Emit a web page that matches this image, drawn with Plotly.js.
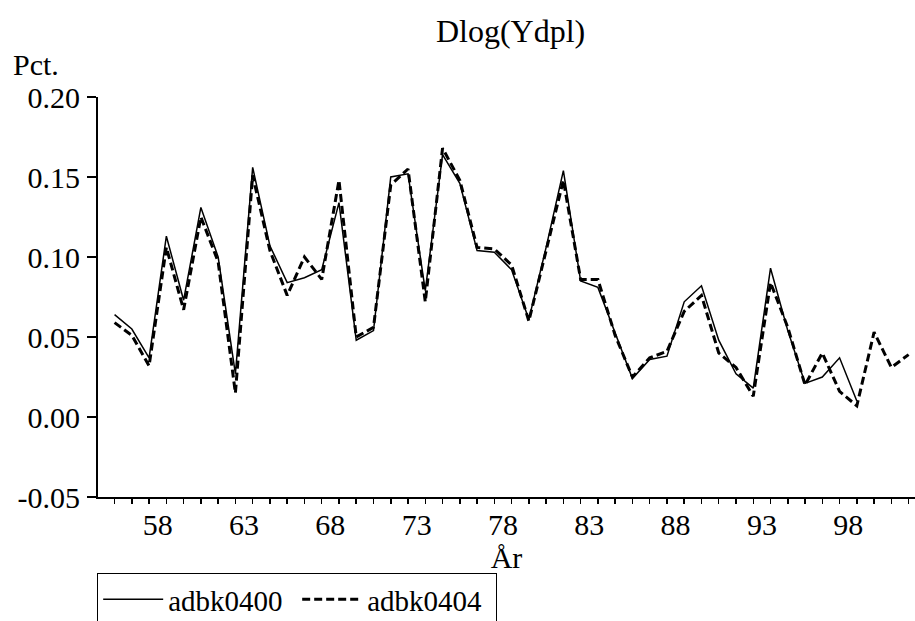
<!DOCTYPE html>
<html>
<head>
<meta charset="utf-8">
<script src="https://cdn.plot.ly/plotly-3.0.1.min.js"></script>
<style>html,body{margin:0;padding:0;background:#fff;overflow:hidden;}#chart{width:915px;height:660px;}</style>
</head>
<body>
<div id="chart"></div>
<script>
var years0400 = [1956,1957,1958,1959,1960,1961,1962,1963,1964,1965,1966,1967,1968,1969,1970,1971,1972,1973,1974,1975,1976,1977,1978,1979,1980,1981,1982,1983,1984,1985,1986,1987,1988,1989,1990,1991,1992,1993,1994,1995,1996,1997,1998,1999];
var adbk0400 = [0.064,0.055,0.037,0.113,0.073,0.131,0.100,0.027,0.156,0.107,0.084,0.087,0.092,0.134,0.048,0.054,0.150,0.152,0.079,0.164,0.146,0.104,0.103,0.092,0.061,0.106,0.154,0.085,0.081,0.052,0.024,0.036,0.038,0.072,0.082,0.048,0.027,0.018,0.093,0.054,0.021,0.025,0.037,0.010];
var years0404 = [1956,1957,1958,1959,1960,1961,1962,1963,1964,1965,1966,1967,1968,1969,1970,1971,1972,1973,1974,1975,1976,1977,1978,1979,1980,1981,1982,1983,1984,1985,1986,1987,1988,1989,1990,1991,1992,1993,1994,1995,1996,1997,1998,1999,2000,2001,2002];
var adbk0404 = [0.059,0.051,0.032,0.106,0.067,0.125,0.097,0.015,0.151,0.104,0.076,0.100,0.086,0.148,0.050,0.056,0.145,0.155,0.072,0.168,0.148,0.106,0.105,0.095,0.060,0.104,0.148,0.086,0.086,0.051,0.025,0.037,0.041,0.066,0.076,0.040,0.031,0.013,0.084,0.056,0.020,0.040,0.016,0.007,0.053,0.031,0.039];
var xTickYears = [1958,1963,1968,1973,1978,1983,1988,1993,1998];
var xTickLabels = ["58","63","68","73","78","83","88","93","98"];
var yTickVals = [-0.05,0.00,0.05,0.10,0.15,0.20];
var yTickLabels = ["-0.05","0.00","0.05","0.10","0.15","0.20"];

var FONT = "'Liberation Serif', 'Times New Roman', Times, serif";

var traces = [
  {x: years0400, y: adbk0400, type: "scatter", mode: "lines", name: "adbk0400",
   line: {color: "#000", width: 1.5}},
  {x: years0404, y: adbk0404, type: "scatter", mode: "lines", name: "adbk0404",
   line: {color: "#000", width: 3, dash: "8px,4px"}}
];

var layout = {
  width: 915, height: 660,
  margin: {l: 98, r: 0, t: 97, b: 163, pad: 0},
  paper_bgcolor: "#fff", plot_bgcolor: "#fff",
  font: {family: FONT, size: 30, color: "#000"},
  title: {text: "Dlog(Ydpl)", font: {family: FONT, size: 32, color: "#000"},
          x: 0.505, xref: "paper", y: 1 - 31/660, yref: "container", yanchor: "middle"},
  showlegend: true,
  legend: {orientation: "h", x: -0.001, xanchor: "left", y: -0.19, yanchor: "top",
           bordercolor: "#000", borderwidth: 1, bgcolor: "#fff",
           entrywidth: 124, entrywidthmode: "pixels", itemwidth: 60,
           font: {family: FONT, size: 29, color: "#000"}, traceorder: "normal"},
  xaxis: {
    range: [1955.04, 2002.37],
    tickmode: "array",
    tickvals: xTickYears.map(function(v){return v + 0.5;}),
    ticktext: xTickLabels,
    ticks: "outside", ticklen: 0, tickcolor: "#000",
    ticklabelstandoff: 0,
    minor: {tickmode: "linear", tick0: 1956, dtick: 1, ticks: "outside", ticklen: 5, tickwidth: 1.5, tickcolor: "#000", showgrid: false},
    showline: true, linecolor: "#000", linewidth: 2,
    showgrid: false, zeroline: false,
    tickfont: {family: FONT, size: 30, color: "#000"},
    title: {text: "År", font: {family: FONT, size: 30, color: "#000"}, standoff: 5}
  },
  yaxis: {
    range: [-0.05, 0.20],
    tickmode: "array", tickvals: yTickVals, ticktext: yTickLabels,
    ticks: "outside", ticklen: 9, tickwidth: 1.5, tickcolor: "#000",
    ticklabelstandoff: 1,
    showline: true, linecolor: "#000", linewidth: 2,
    showgrid: false, zeroline: false,
    tickfont: {family: FONT, size: 30, color: "#000"}
  },
  annotations: [
    {text: "Pct.", xref: "paper", yref: "paper", x: -0.106, xanchor: "left",
     y: 1.08, yanchor: "middle", showarrow: false,
     font: {family: FONT, size: 30, color: "#000"}}
  ]
};

Plotly.newPlot("chart", traces, layout, {displayModeBar: false, staticPlot: true});
</script>
</body>
</html>
